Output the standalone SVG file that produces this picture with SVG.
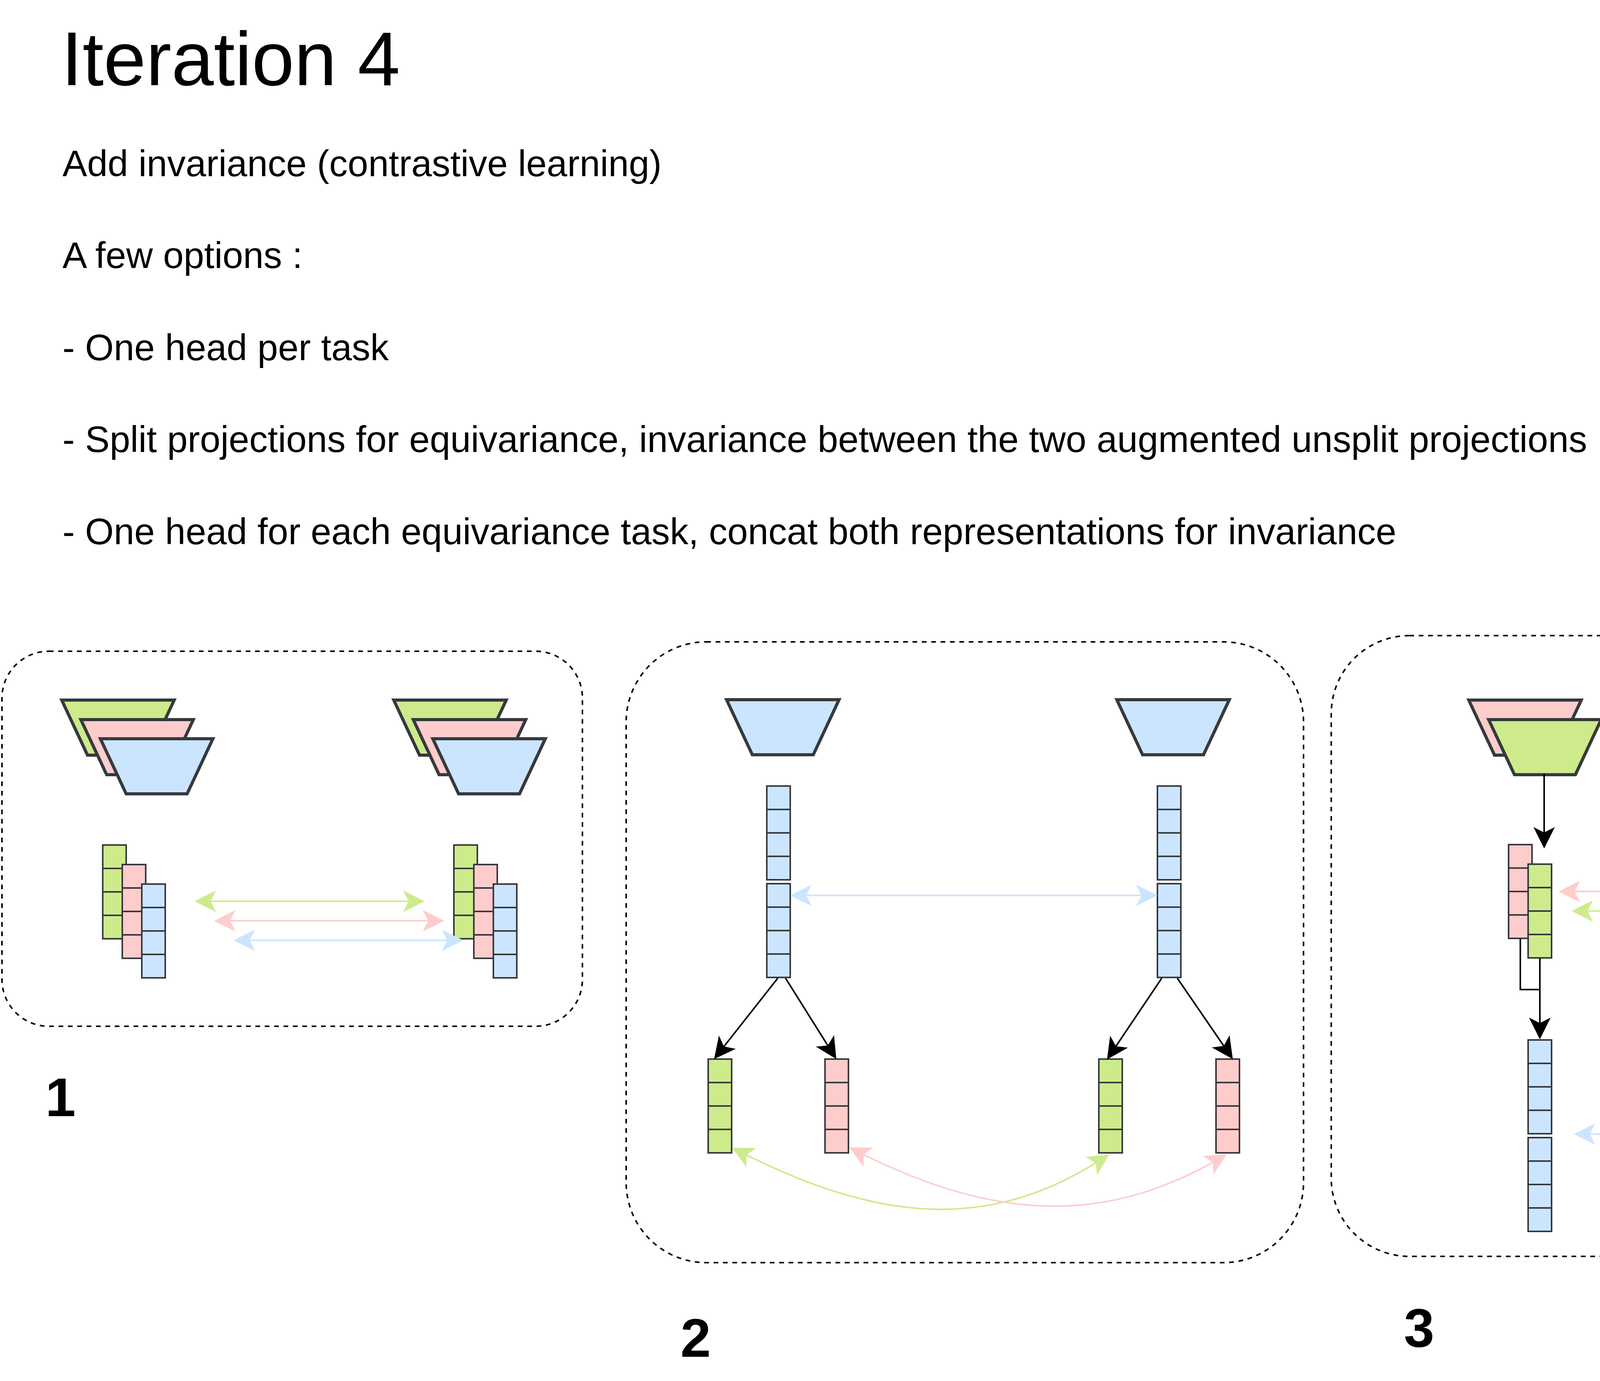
<svg xmlns="http://www.w3.org/2000/svg" xmlns:xlink="http://www.w3.org/1999/xlink" width="5150" height="3535" viewBox="0 0 5150 3535">
<style>
.t{font-family:"Liberation Sans",Arial,Helvetica,sans-serif;fill:#000}
.title{font-size:195px}
.body{font-size:94.5px}
.num{font-size:140px;font-weight:bold}
.panel{fill:none;stroke:#000;stroke-width:4;stroke-dasharray:12 12}
.trap{stroke:#36393d;stroke-width:8;stroke-linejoin:miter}
.cell{stroke:#36393d;stroke-width:4}
.g{fill:#cdeb8b}.p{fill:#ffcccc}.b{fill:#cce5ff}
.e{fill:none;stroke-width:4}
.ek{stroke:#000;marker-end:url(#mk)}
.eg{stroke:#cdeb8b;marker-start:url(#mg);marker-end:url(#mg)}
.ep{stroke:#ffcccc;marker-start:url(#mp);marker-end:url(#mp)}
.eb{stroke:#cce5ff;marker-start:url(#mb);marker-end:url(#mb)}
</style>
<defs>
<polygon id="trap" points="0,0 288,0 222,141 66,141"/>
<g id="vec4">
<rect x="0" y="0" width="60" height="60"/>
<rect x="0" y="60" width="60" height="60"/>
<rect x="0" y="120" width="60" height="60"/>
<rect x="0" y="180" width="60" height="60"/>
</g>
<marker id="mk" markerUnits="userSpaceOnUse" viewBox="-60 -60 120 120" markerWidth="120" markerHeight="120" refX="0" refY="0" orient="auto-start-reverse" overflow="visible"><path d="M20,0 L-35,-27.5 L-21,0 L-35,27.5 Z" fill="#000"/></marker>
<marker id="mg" markerUnits="userSpaceOnUse" viewBox="-60 -60 120 120" markerWidth="120" markerHeight="120" refX="0" refY="0" orient="auto-start-reverse" overflow="visible"><path d="M20,0 L-35,-27.5 L-21,0 L-35,27.5 Z" fill="#cdeb8b"/></marker>
<marker id="mp" markerUnits="userSpaceOnUse" viewBox="-60 -60 120 120" markerWidth="120" markerHeight="120" refX="0" refY="0" orient="auto-start-reverse" overflow="visible"><path d="M20,0 L-35,-27.5 L-21,0 L-35,27.5 Z" fill="#ffcccc"/></marker>
<marker id="mb" markerUnits="userSpaceOnUse" viewBox="-60 -60 120 120" markerWidth="120" markerHeight="120" refX="0" refY="0" orient="auto-start-reverse" overflow="visible"><path d="M20,0 L-35,-27.5 L-21,0 L-35,27.5 Z" fill="#cce5ff"/></marker>
</defs>
<rect x="0" y="0" width="5150" height="3535" fill="#fff"/>

<g id="text-block">
<text class="t title" x="157" y="218">Iteration 4</text>
<text class="t body" x="160" y="451">Add invariance (contrastive learning)</text>
<text class="t body" x="160" y="686">A few options :</text>
<text class="t body" x="160" y="922">- One head per task</text>
<text class="t body" x="160" y="1157">- Split projections for equivariance, invariance between the two augmented unsplit projections</text>
<text class="t body" x="160" y="1393">- One head for each equivariance task, concat both representations for invariance</text>
</g>

<g id="panel1-frame"><rect class="panel" x="5" y="1667" width="1486" height="960" rx="120" ry="120"/></g>
<g id="panel2-frame"><rect class="panel" x="1603" y="1643" width="1734" height="1589" rx="205" ry="205"/></g>
<g id="panel3-frame"><rect class="panel" x="3408" y="1627" width="1733" height="1589" rx="200" ry="200"/></g>

<g id="label1"><text class="t num" x="116" y="2857">1</text></g>
<g id="label2"><text class="t num" x="1742" y="3473">2</text></g>
<g id="label3"><text class="t num" x="3594" y="3447">3</text></g>

<!-- Panel 1 -->
<g id="p1-enc-left">
<use href="#trap" x="158" y="1792" class="trap g"/>
<use href="#trap" x="207" y="1842" class="trap p"/>
<use href="#trap" x="257" y="1891" class="trap b"/>
</g>
<g id="p1-enc-right">
<use href="#trap" x="1008" y="1792" class="trap g"/>
<use href="#trap" x="1058" y="1842" class="trap p"/>
<use href="#trap" x="1108" y="1891" class="trap b"/>
</g>
<g id="p1-vec-left">
<use href="#vec4" x="263" y="2163" class="cell g"/>
<use href="#vec4" x="313" y="2213" class="cell p"/>
<use href="#vec4" x="363" y="2263" class="cell b"/>
</g>
<g id="p1-vec-right">
<use href="#vec4" x="1162" y="2163" class="cell g"/>
<use href="#vec4" x="1213" y="2213" class="cell p"/>
<use href="#vec4" x="1263" y="2263" class="cell b"/>
</g>

<!-- Panel 2 -->
<g id="p2-enc-left"><use href="#trap" x="1860" y="1791" class="trap b"/></g>
<g id="p2-enc-right"><use href="#trap" x="2859" y="1791" class="trap b"/></g>
<g id="p2-proj-left">
<use href="#vec4" x="1963" y="2012" class="cell b"/>
<use href="#vec4" x="1963" y="2262" class="cell b"/>
</g>
<g id="p2-proj-right">
<use href="#vec4" x="2963" y="2012" class="cell b"/>
<use href="#vec4" x="2963" y="2262" class="cell b"/>
</g>
<g id="p2-green-left"><use href="#vec4" x="1813" y="2711" class="cell g"/></g>
<g id="p2-pink-left"><use href="#vec4" x="2112" y="2711" class="cell p"/></g>
<g id="p2-green-right"><use href="#vec4" x="2813" y="2711" class="cell g"/></g>
<g id="p2-pink-right"><use href="#vec4" x="3113" y="2711" class="cell p"/></g>

<!-- Panel 3 -->
<g id="p3-enc-left">
<use href="#trap" x="3760" y="1792" class="trap p"/>
<use href="#trap" x="3811" y="1842" class="trap g"/>
</g>
<g id="p3-enc-right">
<use href="#trap" x="4409" y="1792" class="trap p"/>
<use href="#trap" x="4460" y="1842" class="trap g"/>
</g>
<g id="p3-vec-left">
<use href="#vec4" x="3862" y="2162" class="cell p"/>
<use href="#vec4" x="3912" y="2212" class="cell g"/>
</g>
<g id="p3-vec-right">
<use href="#vec4" x="4512" y="2162" class="cell p"/>
<use href="#vec4" x="4562" y="2212" class="cell g"/>
</g>
<g id="p3-concat-left">
<use href="#vec4" x="3912" y="2662" class="cell b"/>
<use href="#vec4" x="3912" y="2912" class="cell b"/>
</g>
<g id="p3-concat-right">
<use href="#vec4" x="4512" y="2662" class="cell b"/>
<use href="#vec4" x="4512" y="2912" class="cell b"/>
</g>

<g id="connectors">
<!-- panel 1 -->
<path class="e eg" d="M518,2307 H1067"/>
<path class="e ep" d="M568,2357 H1117"/>
<path class="e eb" d="M618,2407 H1166"/>
<!-- panel 2 -->
<path class="e eb" d="M2043,2292 H2943"/>
<path class="e ek" d="M1991,2504 L1840.4,2695.3"/>
<path class="e ek" d="M2011,2504 L2130.4,2694.1"/>
<path class="e ek" d="M2974,2504 L2845.2,2695.4"/>
<path class="e ek" d="M3014,2504 L3144.7,2694.5"/>
<path class="e eg" d="M1892,2947 C2292,3151 2561,3133 2823,2966"/>
<path class="e ep" d="M2192,2946 C2582,3145 2858,3118 3123,2965"/>
<!-- panel 3 -->
<path class="e ek" d="M3953,1981 V2152"/>
<path class="e ep" d="M4010,2282 H4478"/>
<path class="e eg" d="M4043,2332 H4436"/>
<path class="e eb" d="M4049,2903 H4441"/>
<path class="e ek" d="M3892,2403 V2533 H3942 V2640"/>
<path class="e ek" d="M3942,2453 V2640"/>
<path class="e ek" d="M4542,2403 V2640"/>
<path class="e ek" d="M4592,2453 V2557 H4542 V2640"/>
</g>
</svg>
